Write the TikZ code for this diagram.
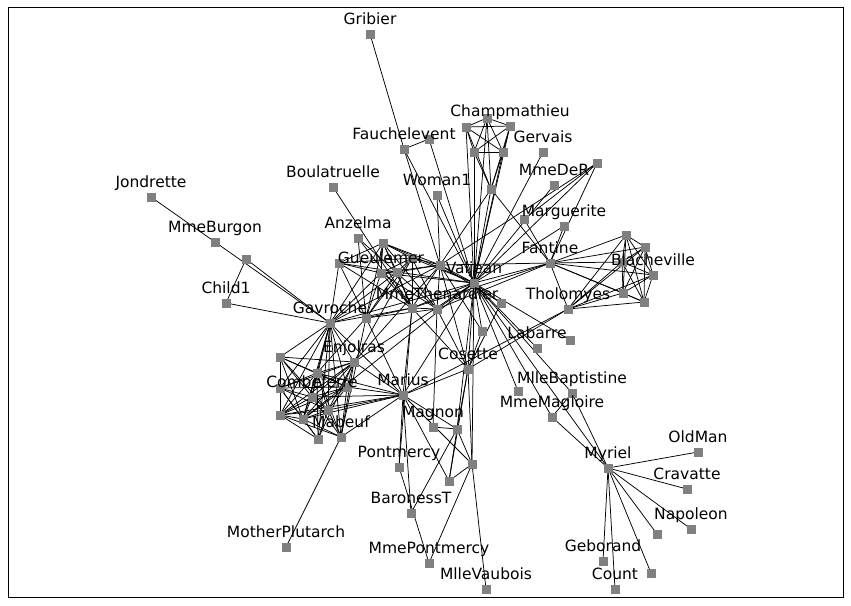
\documentclass[tikz,border=0pt]{standalone}
\usepackage{fontspec}
\setmainfont{DejaVu Sans}
\usetikzlibrary{backgrounds}
\tikzset{
  v/.style={rectangle,fill=black!50,minimum size=9pt,inner sep=0pt,outer sep=0pt},
  lab/.style={anchor=base,inner sep=0pt,font=\fontsize{15.5}{18}\selectfont,text=black},
  e/.style={draw=black,line width=0.75pt},
}
\newcommand\Vtx[3]{\node[v] (#1) at (#2,#3) {};}
\newcommand\Lbl[1]{\node[lab] (l#1) at ([yshift=9.5pt]#1.center) {#1};}
\begin{document}
\begin{tikzpicture}[x=1pt,y=-1pt]
\useasboundingbox (0,0) rectangle (851,605);
\draw[line width=1pt] (8,7) rectangle (843,597);
\Vtx{Myriel}{608}{468}
\Vtx{Napoleon}{691}{529}
\Vtx{MlleBaptistine}{572}{393}
\Vtx{MmeMagloire}{552}{417}
\Vtx{CountessDeLo}{657}{534}
\Vtx{Geborand}{603}{561}
\Vtx{Champtercier}{651}{573}
\Vtx{Cravatte}{687}{489}
\Vtx{Count}{615}{589}
\Vtx{OldMan}{698}{452}
\Vtx{Labarre}{537}{348}
\Vtx{Valjean}{474}{283}
\Vtx{Marguerite}{564}{226}
\Vtx{MmeDeR}{554}{185}
\Vtx{Isabeau}{570}{340}
\Vtx{Gervais}{543}{152}
\Vtx{Tholomyes}{568}{309}
\Vtx{Listolier}{626}{235}
\Vtx{Fameuil}{645}{247}
\Vtx{Blacheville}{653}{275}
\Vtx{Favourite}{644}{302}
\Vtx{Dahlia}{623}{293}
\Vtx{Zephine}{622}{262}
\Vtx{Fantine}{550}{263}
\Vtx{MmeThenardier}{437}{309}
\Vtx{Thenardier}{412}{308}
\Vtx{Cosette}{468}{369}
\Vtx{Javert}{440}{265}
\Vtx{Fauchelevent}{404}{149}
\Vtx{Bamatabois}{491}{189}
\Vtx{Perpetue}{524}{219}
\Vtx{Simplice}{597}{163}
\Vtx{Scaufflaire}{518}{391}
\Vtx{Woman1}{437}{195}
\Vtx{Judge}{487}{118}
\Vtx{Champmathieu}{510}{126}
\Vtx{Brevet}{466}{127}
\Vtx{Chenildieu}{474}{152}
\Vtx{Cochepaille}{503}{152}
\Vtx{Pontmercy}{399}{467}
\Vtx{Boulatruelle}{333}{187}
\Vtx{Eponine}{366}{318}
\Vtx{Anzelma}{358}{238}
\Vtx{Woman2}{501}{303}
\Vtx{MotherInnocent}{429}{139}
\Vtx{Gribier}{370}{34}
\Vtx{Jondrette}{151}{197}
\Vtx{MmeBurgon}{215}{242}
\Vtx{Gavroche}{330}{323}
\Vtx{Gillenormand}{457}{429}
\Vtx{Magnon}{433}{427}
\Vtx{MlleGillenormand}{472}{464}
\Vtx{MmePontmercy}{429}{563}
\Vtx{MlleVaubois}{486}{589}
\Vtx{LtGillenormand}{449}{481}
\Vtx{Marius}{403}{395}
\Vtx{BaronessT}{411}{513}
\Vtx{Mabeuf}{341}{437}
\Vtx{Enjolras}{354}{362}
\Vtx{Combeferre}{312}{397}
\Vtx{Prouvaire}{280}{357}
\Vtx{Feuilly}{347}{387}
\Vtx{Courfeyrac}{317}{373}
\Vtx{Bahorel}{328}{410}
\Vtx{Bossuet}{303}{419}
\Vtx{Joly}{280}{415}
\Vtx{Grantaire}{280}{388}
\Vtx{MotherPlutarch}{286}{547}
\Vtx{Gueulemer}{381}{273}
\Vtx{Babet}{383}{243}
\Vtx{Claquesous}{412}{258}
\Vtx{Montparnasse}{397}{272}
\Vtx{Toussaint}{482}{331}
\Vtx{Child1}{226}{303}
\Vtx{Child2}{246}{259}
\Vtx{Brujon}{339}{263}
\Vtx{MmeHucheloup}{318}{439}
\begin{scope}[on background layer]
\foreach \a/\b in {Napoleon/Myriel, MlleBaptistine/Myriel, MmeMagloire/Myriel, MmeMagloire/MlleBaptistine, CountessDeLo/Myriel, Geborand/Myriel, Champtercier/Myriel, Cravatte/Myriel, Count/Myriel, OldMan/Myriel,
Valjean/Labarre, Valjean/MmeMagloire, Valjean/MlleBaptistine, Valjean/Myriel, Marguerite/Valjean, MmeDeR/Valjean, Isabeau/Valjean, Gervais/Valjean,
Listolier/Tholomyes, Fameuil/Tholomyes, Fameuil/Listolier, Blacheville/Tholomyes, Blacheville/Listolier, Blacheville/Fameuil, Favourite/Tholomyes, Favourite/Listolier, Favourite/Fameuil, Favourite/Blacheville, Dahlia/Tholomyes, Dahlia/Listolier, Dahlia/Fameuil, Dahlia/Blacheville, Dahlia/Favourite, Zephine/Tholomyes, Zephine/Listolier, Zephine/Fameuil, Zephine/Blacheville, Zephine/Favourite, Zephine/Dahlia,
Fantine/Tholomyes, Fantine/Listolier, Fantine/Fameuil, Fantine/Blacheville, Fantine/Favourite, Fantine/Dahlia, Fantine/Zephine, Fantine/Marguerite, Fantine/Valjean,
MmeThenardier/Fantine, MmeThenardier/Valjean, Thenardier/MmeThenardier, Thenardier/Fantine, Thenardier/Valjean,
Cosette/MmeThenardier, Cosette/Valjean, Cosette/Tholomyes, Cosette/Thenardier,
Javert/Valjean, Javert/Fantine, Javert/Thenardier, Javert/MmeThenardier, Javert/Cosette,
Fauchelevent/Valjean, Fauchelevent/Javert,
Bamatabois/Fantine, Bamatabois/Javert, Bamatabois/Valjean,
Perpetue/Fantine, Simplice/Perpetue, Simplice/Valjean, Simplice/Fantine, Simplice/Javert,
Scaufflaire/Valjean, Woman1/Valjean, Woman1/Javert,
Judge/Valjean, Judge/Bamatabois, Champmathieu/Valjean, Champmathieu/Judge, Champmathieu/Bamatabois, Brevet/Judge, Brevet/Champmathieu, Brevet/Valjean, Brevet/Bamatabois, Chenildieu/Judge, Chenildieu/Champmathieu, Chenildieu/Brevet, Chenildieu/Valjean, Chenildieu/Bamatabois, Cochepaille/Judge, Cochepaille/Champmathieu, Cochepaille/Brevet, Cochepaille/Chenildieu, Cochepaille/Valjean, Cochepaille/Bamatabois,
Pontmercy/Thenardier, Boulatruelle/Thenardier, Eponine/MmeThenardier, Eponine/Thenardier, Anzelma/Eponine, Anzelma/Thenardier, Anzelma/MmeThenardier,
Woman2/Valjean, Woman2/Cosette, Woman2/Javert, MotherInnocent/Fauchelevent, MotherInnocent/Valjean, Gribier/Fauchelevent,
MmeBurgon/Jondrette, Gavroche/MmeBurgon, Gavroche/Thenardier, Gavroche/Javert, Gavroche/Valjean,
Gillenormand/Cosette, Gillenormand/Valjean, Magnon/Gillenormand, Magnon/MmeThenardier, MlleGillenormand/Gillenormand, MlleGillenormand/Cosette, MlleGillenormand/Valjean, MmePontmercy/MlleGillenormand, MmePontmercy/Pontmercy, MlleVaubois/MlleGillenormand, LtGillenormand/MlleGillenormand, LtGillenormand/Gillenormand, LtGillenormand/Cosette,
Marius/MlleGillenormand, Marius/Gillenormand, Marius/Pontmercy, Marius/LtGillenormand, Marius/Cosette, Marius/Valjean, Marius/Tholomyes, Marius/Thenardier, Marius/Eponine, Marius/Gavroche,
BaronessT/Gillenormand, BaronessT/Marius, Mabeuf/Marius, Mabeuf/Eponine, Mabeuf/Gavroche,
Enjolras/Marius, Enjolras/Gavroche, Enjolras/Javert, Enjolras/Mabeuf, Enjolras/Valjean,
Combeferre/Enjolras, Combeferre/Marius, Combeferre/Gavroche, Combeferre/Mabeuf,
Prouvaire/Gavroche, Prouvaire/Enjolras, Prouvaire/Combeferre,
Feuilly/Gavroche, Feuilly/Enjolras, Feuilly/Prouvaire, Feuilly/Combeferre, Feuilly/Mabeuf, Feuilly/Marius,
Courfeyrac/Marius, Courfeyrac/Enjolras, Courfeyrac/Combeferre, Courfeyrac/Gavroche, Courfeyrac/Mabeuf, Courfeyrac/Eponine, Courfeyrac/Feuilly, Courfeyrac/Prouvaire,
Bahorel/Combeferre, Bahorel/Gavroche, Bahorel/Courfeyrac, Bahorel/Mabeuf, Bahorel/Enjolras, Bahorel/Feuilly, Bahorel/Prouvaire, Bahorel/Marius,
Bossuet/Marius, Bossuet/Courfeyrac, Bossuet/Gavroche, Bossuet/Bahorel, Bossuet/Enjolras, Bossuet/Feuilly, Bossuet/Prouvaire, Bossuet/Combeferre, Bossuet/Mabeuf, Bossuet/Valjean,
Joly/Bahorel, Joly/Bossuet, Joly/Gavroche, Joly/Courfeyrac, Joly/Enjolras, Joly/Feuilly, Joly/Prouvaire, Joly/Combeferre, Joly/Mabeuf, Joly/Marius,
Grantaire/Bossuet, Grantaire/Enjolras, Grantaire/Combeferre, Grantaire/Courfeyrac, Grantaire/Joly, Grantaire/Gavroche, Grantaire/Bahorel, Grantaire/Feuilly, Grantaire/Prouvaire,
MotherPlutarch/Mabeuf,
Gueulemer/Thenardier, Gueulemer/Valjean, Gueulemer/MmeThenardier, Gueulemer/Javert, Gueulemer/Gavroche, Gueulemer/Eponine,
Babet/Thenardier, Babet/Gueulemer, Babet/Valjean, Babet/MmeThenardier, Babet/Javert, Babet/Gavroche, Babet/Eponine,
Claquesous/Thenardier, Claquesous/Gueulemer, Claquesous/Valjean, Claquesous/MmeThenardier, Claquesous/Javert, Claquesous/Eponine, Claquesous/Enjolras, Claquesous/Babet,
Montparnasse/Javert, Montparnasse/Babet, Montparnasse/Gueulemer, Montparnasse/Claquesous, Montparnasse/Valjean, Montparnasse/Gavroche, Montparnasse/Eponine, Montparnasse/Thenardier,
Toussaint/Cosette, Toussaint/Javert, Toussaint/Valjean,
Child1/Gavroche, Child2/Gavroche, Child2/Child1,
Brujon/Babet, Brujon/Gueulemer, Brujon/Thenardier, Brujon/Gavroche, Brujon/Eponine, Brujon/Claquesous, Brujon/Montparnasse,
MmeHucheloup/Bossuet, MmeHucheloup/Joly, MmeHucheloup/Grantaire, MmeHucheloup/Bahorel, MmeHucheloup/Courfeyrac, MmeHucheloup/Gavroche, MmeHucheloup/Enjolras}
  \draw[e] (\a.center) -- (\b.center);
\end{scope}
\foreach \n in {Gribier,Champmathieu,Fauchelevent,Gervais,Boulatruelle,Woman1,MmeDeR,Jondrette,Marguerite,MmeBurgon,Anzelma,Fantine,Gueulemer,Valjean,Blacheville,Child1,MmeThenardier,Tholomyes,Gavroche,Labarre,Enjolras,Cosette,Combeferre,MlleBaptistine,Marius,MmeMagloire,Mabeuf,Magnon,OldMan,Pontmercy,Myriel,Cravatte,BaronessT,Napoleon,MotherPlutarch,Geborand,MmePontmercy,Count,MlleVaubois}
  {\Lbl{\n}}
\end{tikzpicture}
\end{document}
